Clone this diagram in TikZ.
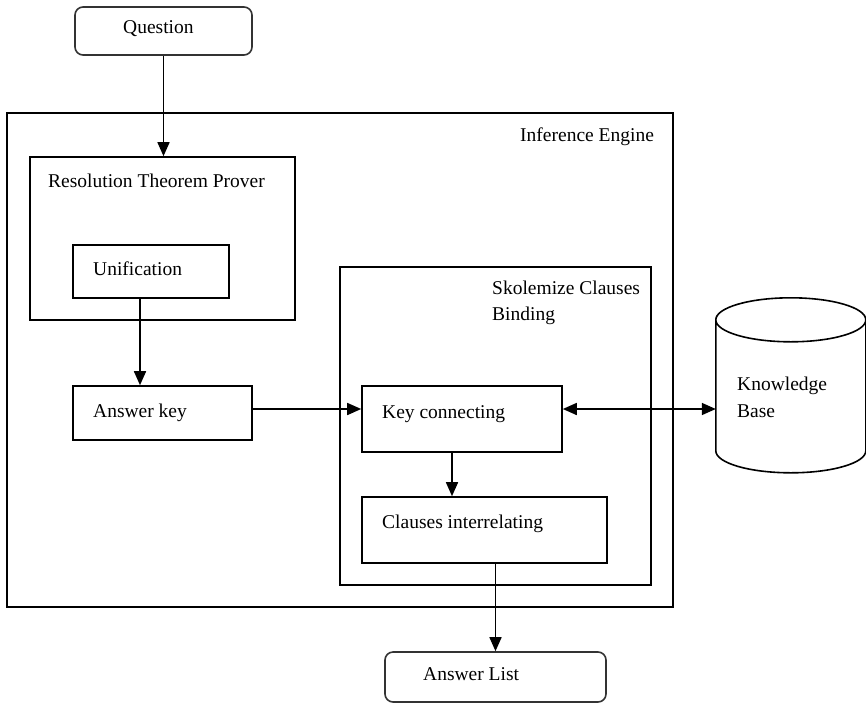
\documentclass[tikz,border=0pt]{standalone}
\usepackage{fontspec}
\setmainfont{Liberation Serif}
\usetikzlibrary{arrows.meta,calc}
\begin{document}
\begin{tikzpicture}[x=1pt,y=-1pt,
  box/.style={draw,line width=1.6pt,inner sep=0pt,fill=none},
  rbox/.style={box,rounded corners=8pt,draw=black!80},
  lbl/.style={anchor=base west,inner sep=0pt,font=\fontsize{19.5}{23}\selectfont},
  arr/.style={line width=1.6pt,-{Triangle[length=14pt,width=12pt]}},
  darr/.style={line width=1.6pt,{Triangle[length=14pt,width=12pt]}-{Triangle[length=14pt,width=12pt]}}]
\useasboundingbox (0,0) rectangle (866,704);
\fill[white] (0,0) rectangle (866,704);
% boxes
\node[rbox,minimum width=177pt,minimum height=48pt] (q) at (163.5,31) {};
\node[box,minimum width=666pt,minimum height=494pt] (ie) at (340,360) {};
\node[box,minimum width=265pt,minimum height=163pt] (rtp) at (162.5,238.5) {};
\node[box,minimum width=156pt,minimum height=53pt] (un) at (151,271.5) {};
\node[box,minimum width=179pt,minimum height=54pt] (ak) at (162.5,413) {};
\node[box,minimum width=311pt,minimum height=318pt] (sk) at (495.5,426) {};
\node[box,minimum width=200pt,minimum height=66pt] (kc) at (462,419) {};
\node[box,minimum width=245pt,minimum height=66pt] (ci) at (484.5,530) {};
\node[rbox,minimum width=221pt,minimum height=50pt] (al) at (495.5,677) {};
\node[inner sep=0pt,minimum width=150pt,minimum height=175pt] (kb) at (791,385.5) {};
% cylinder
\draw[line width=1.6pt] (kb.north west) ++(0,22) coordinate (kbtl)
  (kbtl) arc[start angle=180,end angle=-180,x radius=75,y radius=22]
  (kbtl) -- ++(0,131) arc[start angle=180,end angle=0,x radius=75,y radius=22] -- ++(0,-131);
% labels
\node[lbl] (tq) at (123,33) {Question};
\node[lbl] (tie) at (520,141) {Inference Engine};
\node[lbl] (trtp) at (48,187) {Resolution Theorem Prover};
\node[lbl] (tun) at (93,275) {Unification};
\node[lbl] (tak) at (93,417) {Answer key};
\node[lbl] (tsk) at (492,294) {Skolemize Clauses};
\node[lbl] (tsk2) at (492,320) {Binding};
\node[lbl] (tkc) at (382,418) {Key connecting};
\node[lbl] (tci) at (382,528) {Clauses interrelating};
\node[lbl] (tkb) at (737,390) {Knowledge};
\node[lbl] (tkb2) at (737,417) {Base};
\node[lbl] (tal) at (423,680) {Answer List};
% connectors
\draw[arr] (q.south) -- (q.south |- rtp.north);
\draw[arr] ([xshift=-11pt]un.south) -- ([xshift=-11pt]un.south |- ak.north);
\draw[arr] ([yshift=4pt]ak.east) -- ([yshift=4pt]ak.east -| kc.west);
\draw[darr] ([yshift=10pt]kc.east) -- ([yshift=10pt]kc.east -| kb.west);
\draw[arr] ([xshift=-10pt]kc.south) -- ([xshift=-10pt]kc.south |- ci.north);
\draw[arr] (ci.south -| al.north) -- (al.north);
\end{tikzpicture}
\end{document}
